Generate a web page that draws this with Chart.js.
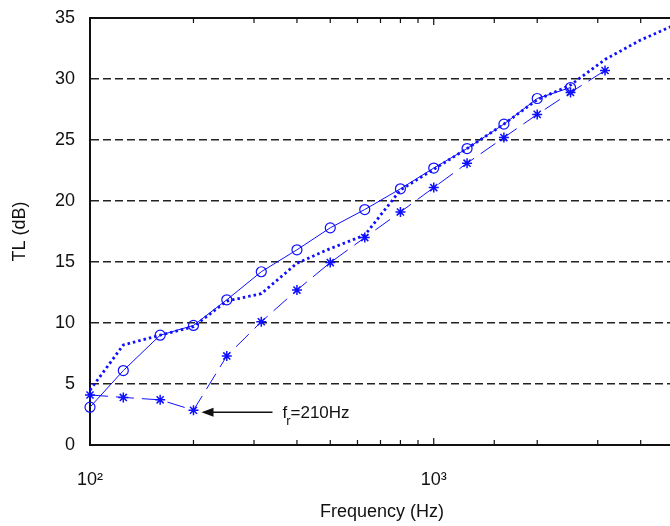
<!DOCTYPE html>
<html>
<head>
<meta charset="utf-8">
<script src="https://cdn.jsdelivr.net/npm/chart.js@4"></script>
<style>
    html, body { margin: 0; padding: 0; background: #fff; overflow: hidden; }
    #tlChart { display: block; }
</style>
</head>
<body>
<canvas id="tlChart" width="680" height="526"></canvas>
<script>
// Third-octave band centre frequencies (Hz)
const freqs = [100, 125, 160, 200, 250, 315, 400, 500, 630, 800, 1000, 1250, 1600, 2000, 2500, 3150, 4000, 5000];

// Transmission loss (dB)
const tlCircle = [3.1, 6.1, 9.0, 9.8, 11.9, 14.2, 16.0, 17.8, 19.3, 21.0, 22.7, 24.3, 26.3, 28.4, 29.3];
const tlStar = [4.1, 3.9, 3.7, 2.85, 7.3, 10.1, 12.7, 14.95, 17.0, 19.1, 21.1, 23.1, 25.2, 27.1, 28.9, 30.7];
const tlDotted = [4.5, 8.2, 9.0, 9.7, 11.8, 12.4, 14.9, 16.1, 17.2, 20.9, 22.6, 24.3, 26.3, 28.3, 29.5, 31.6, 33.2, 34.4];

const yTicks = [0, 5, 10, 15, 20, 25, 30, 35];
const xTickLabels = { 100: '10²', 1000: '10³' };

const resonanceFreq = 200;        // star point the arrow points at
const resonanceLabel = '=210Hz';

const BLUE = 'rgb(15, 15, 255)';
const INK = '#111';
const FONT = "'Liberation Sans', Arial, sans-serif";

const toPoints = (vals) => vals.map((v, i) => ({ x: freqs[i], y: v }));

// Frame: top border + inward ticks like the original plot
const framePlugin = {
    id: 'frame',
    afterDraw(chart) {
        const { ctx, chartArea, scales } = chart;
        const xs = scales.x;
        ctx.save();
        ctx.strokeStyle = INK;
        ctx.lineWidth = 2;
        ctx.beginPath();
        ctx.moveTo(chartArea.left, chartArea.top);
        ctx.lineTo(chartArea.right, chartArea.top);
        ctx.stroke();

        ctx.lineWidth = 1.2;
        xs.ticks.forEach(t => {
            const px = xs.getPixelForValue(t.value);
            const len = xTickLabels[t.value] ? 7 : 5;
            ctx.beginPath();
            ctx.moveTo(px, chartArea.bottom);
            ctx.lineTo(px, chartArea.bottom - len);
            ctx.moveTo(px, chartArea.top);
            ctx.lineTo(px, chartArea.top + len);
            ctx.stroke();
        });
        ctx.restore();
    }
};

// Arrow + f_r label
const arrowPlugin = {
    id: 'resArrow',
    afterDatasetsDraw(chart) {
        const { ctx, scales } = chart;
        const idx = freqs.indexOf(resonanceFreq);
        const px = scales.x.getPixelForValue(resonanceFreq);
        const py = scales.y.getPixelForValue(tlStar[idx]);
        const tipX = px + 8;
        const tipY = py + 2;
        const tailX = tipX + 71;

        ctx.save();
        ctx.strokeStyle = INK;
        ctx.fillStyle = INK;
        ctx.lineWidth = 1.5;
        ctx.beginPath();
        ctx.moveTo(tipX + 10, tipY);
        ctx.lineTo(tailX, tipY);
        ctx.stroke();
        ctx.beginPath();
        ctx.moveTo(tipX, tipY);
        ctx.lineTo(tipX + 12, tipY - 4.5);
        ctx.lineTo(tipX + 12, tipY + 4.5);
        ctx.closePath();
        ctx.fill();

        ctx.textBaseline = 'alphabetic';
        ctx.font = '17px ' + FONT;
        const tx = tailX + 10;
        const baseY = tipY + 6;
        ctx.fillText('f', tx, baseY);
        const fw = ctx.measureText('f').width;
        ctx.font = '13px ' + FONT;
        ctx.fillText('r', tx + fw - 1, baseY + 7);
        const rw = ctx.measureText('r').width;
        ctx.font = '17px ' + FONT;
        ctx.fillText(resonanceLabel, tx + fw + rw - 1, baseY);
        ctx.restore();
    }
};

const ctx = document.getElementById('tlChart').getContext('2d');

new Chart(ctx, {
    type: 'line',
    data: {
        datasets: [
            {
                label: 'circle',
                data: toPoints(tlCircle),
                borderColor: BLUE,
                borderWidth: 1,
                pointStyle: 'circle',
                pointRadius: 5,
                pointBorderColor: BLUE,
                pointBackgroundColor: 'rgba(0,0,0,0)',
                pointBorderWidth: 1.2,
                tension: 0,
                clip: false
            },
            {
                label: 'star',
                data: toPoints(tlStar),
                borderColor: BLUE,
                borderWidth: 1,
                borderDash: [18, 8],
                pointStyle: 'star',
                pointRadius: 5,
                pointBorderColor: BLUE,
                pointBorderWidth: 1.5,
                tension: 0,
                clip: false
            },
            {
                label: 'dotted',
                data: toPoints(tlDotted),
                borderColor: BLUE,
                borderWidth: 2.8,
                borderDash: [2.5, 3],
                pointRadius: 0,
                tension: 0
            }
        ]
    },
    options: {
        responsive: false,
        animation: false,
        events: [],
        layout: { autoPadding: false, padding: { top: 18, right: 6, left: 0, bottom: 0 } },
        plugins: {
            legend: { display: false },
            tooltip: { enabled: false }
        },
        scales: {
            x: {
                type: 'logarithmic',
                min: 100,
                max: 5000,
                grid: { display: false, drawTicks: false },
                border: { display: true, color: INK, width: 2 },
                ticks: {
                    autoSkip: false,
                    maxRotation: 0,
                    padding: 24,
                    color: INK,
                    font: { family: FONT, size: 18 },
                    callback: (value) => xTickLabels[value] || ''
                },
                title: {
                    display: true,
                    text: 'Frequency (Hz)',
                    color: INK,
                    font: { family: FONT, size: 18 },
                    padding: { top: 0, bottom: 3 }
                },
                afterFit: (s) => {
                    s.height = 81;
                    s.paddingLeft = 0;
                    s.paddingRight = 0;
                }
            },
            y: {
                min: 0,
                max: 35,
                afterBuildTicks: (s) => { s.ticks = yTicks.map(v => ({ value: v })); },
                grid: {
                    drawTicks: false,
                    color: (c) => (c.tick && (c.tick.value === 0 || c.tick.value === 35)) ? 'rgba(0,0,0,0)' : '#222',
                    lineWidth: 1.6
                },
                border: { display: true, color: INK, width: 2, dash: [8, 4] },
                ticks: {
                    padding: 15,
                    color: INK,
                    font: { family: FONT, size: 18 }
                },
                title: {
                    display: true,
                    text: 'TL (dB)',
                    color: INK,
                    font: { family: FONT, size: 18 },
                    padding: { top: 9, bottom: 0 }
                },
                afterFit: (s) => {
                    s.width = 90;
                    s.paddingTop = 0;
                    s.paddingBottom = 0;
                }
            }
        }
    },
    plugins: [framePlugin, arrowPlugin]
});
</script>
</body>
</html>
